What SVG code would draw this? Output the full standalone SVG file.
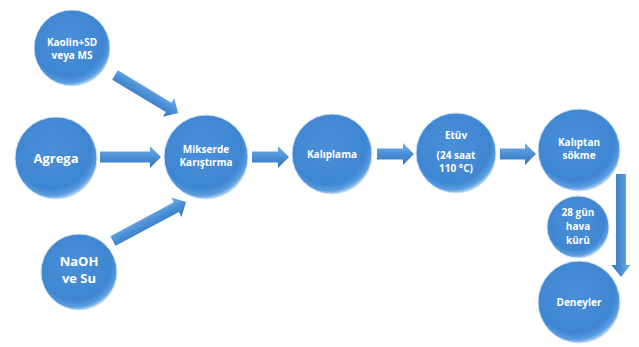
<svg xmlns="http://www.w3.org/2000/svg" width="639" height="347" viewBox="0 0 639 347">
<defs>
<radialGradient id="cg" cx="0.45" cy="0.4" r="0.6">
<stop offset="0" stop-color="#4a8fd8"/>
<stop offset="0.8" stop-color="#3f86d2"/>
<stop offset="0.93" stop-color="#5a9de0"/>
<stop offset="1" stop-color="#a7cdf0"/>
</radialGradient>
<linearGradient id="ag" x1="0" y1="0" x2="0" y2="1">
<stop offset="0" stop-color="#7ab0e6"/>
<stop offset="0.5" stop-color="#4a8fd6"/>
<stop offset="1" stop-color="#3576bf"/>
</linearGradient>
<path id="arrowShape" d="M0,-5.5 H-11 V-11 L0,0 Z"/>
</defs>
<style>
.node circle{fill:url(#cg);stroke:#cfe3f6;stroke-width:1}
.node text{font-family:"Open Sans","Liberation Sans",sans-serif;font-weight:bold;fill:#ffffff;text-anchor:middle}
.s{font-size:10px}
.l{font-size:13px}
.arr{fill:url(#ag)}
</style>
<rect width="639" height="347" fill="#ffffff"/>
<g id="connectors">
<path class="arr" transform="translate(115,75) rotate(31.1)" d="M0,-5.5 H62.6 V-11 L73.6,0 L62.6,11 V5.5 H0 Z"/>
<path class="arr" transform="translate(100,157)" d="M0,-5.5 H50 V-11 L61,0 L50,11 V5.5 H0 Z"/>
<path class="arr" transform="translate(113,241) rotate(-28.1)" d="M0,-5.5 H71.8 V-11 L82.8,0 L71.8,11 V5.5 H0 Z"/>
<path class="arr" transform="translate(252,157)" d="M0,-5.5 H26 V-11 L37,0 L26,11 V5.5 H0 Z"/>
<path class="arr" transform="translate(377,154)" d="M0,-5.5 H26 V-11 L37,0 L26,11 V5.5 H0 Z"/>
<path class="arr" transform="translate(500,154)" d="M0,-5.5 H25 V-11 L36,0 L25,11 V5.5 H0 Z"/>
<path class="arr" transform="translate(621,174) rotate(90)" d="M0,-5 H91 V-9.5 L103,0 L91,9.5 V5 H0 Z"/>
</g>
<g id="kaolin" class="node"><circle cx="72" cy="48" r="38"/><text class="s" x="72" y="46">Kaolin+SD</text><text class="s" x="72" y="59">veya MS</text></g>
<g id="agrega" class="node"><circle cx="56" cy="158" r="41"/><text class="l" x="56" y="163">Agrega</text></g>
<g id="naoh" class="node"><circle cx="79" cy="272" r="38"/><text class="l" x="79" y="266">NaOH</text><text class="l" x="79" y="283">ve Su</text></g>
<g id="mikserde" class="node"><circle cx="206" cy="157" r="42"/><text class="s" x="206" y="153">Mikserde</text><text class="s" x="206" y="166">Karıştırma</text></g>
<g id="kaliplama" class="node"><circle cx="332" cy="154" r="40"/><text class="s" x="332" y="158">Kalıplama</text></g>
<g id="etuv" class="node"><circle cx="456" cy="153" r="40"/><text class="s" x="456" y="139">Etüv</text><text class="s" x="456" y="159">(24 saat</text><text class="s" x="456" y="172">110 °C)</text></g>
<g id="kaliptan" class="node"><circle cx="579" cy="150" r="41"/><text class="s" x="579" y="146">Kalıptan</text><text class="s" x="579" y="159">sökme</text></g>
<g id="hava" class="node"><circle cx="578" cy="227" r="31"/><text class="s" x="578" y="216">28 gün</text><text class="s" x="578" y="230">hava</text><text class="s" x="578" y="244">kürü</text></g>
<g id="deneyler" class="node"><circle cx="579" cy="302" r="41"/><text class="s" x="579" y="306">Deneyler</text></g>
</svg>
